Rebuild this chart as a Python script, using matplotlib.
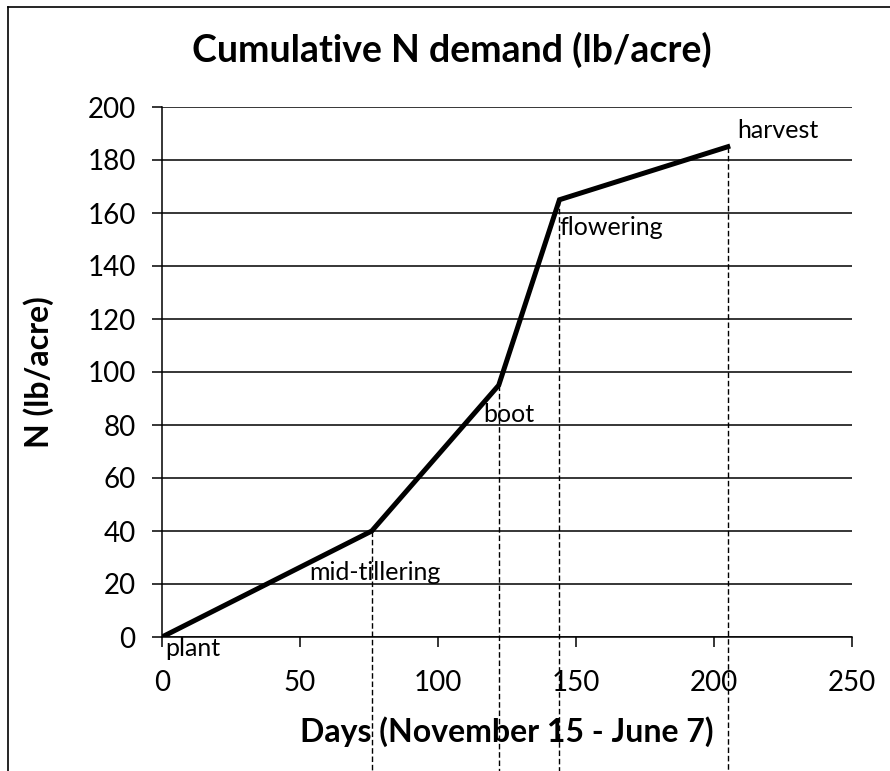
import matplotlib
matplotlib.use("Agg")
import matplotlib.pyplot as plt
from matplotlib.lines import Line2D

plt.rcParams['font.family'] = ['Lato', 'DejaVu Sans']

# growth stages: day after planting, cumulative N (lb/acre)
stages = ['plant', 'mid-tillering', 'boot', 'flowering', 'harvest']
days = [0, 76, 122, 144, 205]
n_demand = [0, 40, 95, 165, 185]

# where each stage label sits (data coords, left edge / vertical centre)
label_x = [1, 53.5, 116.3, 143.8, 208.3]
label_y = [-4.5, 24.5, 83.8, 154.7, 191]

W, H = 890, 771
fig = plt.figure(figsize=(W / 100, H / 100), dpi=100)
ax = fig.add_axes([162 / W, 1 - 637 / H, (852 - 162) / W, (637 - 107) / H])

ax.plot(days, n_demand, color='black', lw=3.6, solid_joinstyle='miter', zorder=3)

# dashed drop lines run right off the bottom of the figure
for d, n in zip(days[1:], n_demand[1:]):
    ax.plot([d, d], [n, -70], color='black', lw=1.0, ls=(0, (4, 2)),
            clip_on=False, zorder=2)

for s, x, y in zip(stages, label_x, label_y):
    ax.text(x, y, s, fontsize=18, ha='left', va='center', zorder=4)

ax.set_xlim(0, 250)
ax.set_ylim(0, 200)
ax.set_xticks(range(0, 251, 50))
ax.set_yticks(range(0, 201, 20))
ax.yaxis.grid(True, color='black', lw=1.1)
ax.set_axisbelow(True)
for side in ['top', 'right']:
    ax.spines[side].set_visible(False)
for side in ['left', 'bottom']:
    ax.spines[side].set_linewidth(1.1)
ax.tick_params(axis='both', direction='out', length=7, width=1.1,
               labelsize=20, pad=12)
ax.tick_params(axis='x', pad=17)

ax.set_xlabel('Days (November 15 - June 7)', fontsize=23, fontweight='bold')
ax.xaxis.set_label_coords(0.5, -0.15)
ax.set_ylabel('N (lb/acre)', fontsize=23, fontweight='bold')
ax.yaxis.set_label_coords(-0.157, 0.5)

fig.text(452 / W, 1 - 50 / H, 'Cumulative N demand (lb/acre)',
         fontsize=27, fontweight='bold', ha='center', va='center')

# outer frame (only top and left edges fall inside the image)
fig.add_artist(Line2D([8 / W, 1.0], [1 - 7 / H, 1 - 7 / H], color='black', lw=1.2))
fig.add_artist(Line2D([8 / W, 8 / W], [0.0, 1 - 7 / H], color='black', lw=1.2))

fig.savefig('out.png', dpi=100)
